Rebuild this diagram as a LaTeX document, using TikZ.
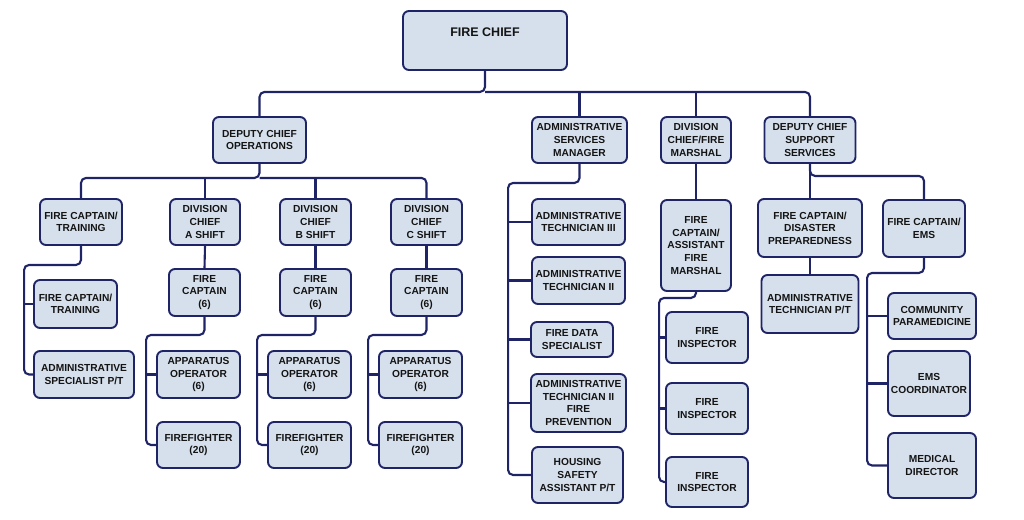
\documentclass[tikz,border=0pt]{standalone}
\usepackage{fontspec}
\setmainfont{Liberation Sans}
\definecolor{navy}{HTML}{1E2466}
\definecolor{paleblue}{HTML}{D6E0EC}
\tikzset{
    box/.style = {draw=navy, fill=paleblue, line width=1.9pt, rounded corners=6pt, align=center,
        inner sep=1pt, text=black!92, font=\bfseries\fontsize{10.2}{12.6}\selectfont},
    wh/.style 2 args = {minimum width=#1, minimum height=#2},
    link/.style = {draw=navy, line width=2.1pt, rounded corners=5pt}
}
\begin{document}
\begin{tikzpicture}[x = 1pt, y = -1pt]
    \useasboundingbox (0,0) rectangle (1024,519);
    % top level
    \node[box, wh={164}{59}, font=\bfseries\fontsize{12.5}{15}\selectfont] (chief) at (485,40.5) {FIRE CHIEF\\[1pt]\mbox{}};
    \node[box, wh={93}{46}] (dco) at (259.5,140) {DEPUTY CHIEF\\OPERATIONS};
    \node[box, wh={95}{46}] (asm) at (579.5,140) {ADMINISTRATIVE\\SERVICES\\MANAGER};
    \node[box, wh={70}{46}] (dcfm) at (696,140) {DIVISION\\CHIEF/FIRE\\MARSHAL};
    \node[box, wh={91}{46}] (dss) at (810,140) {DEPUTY CHIEF\\SUPPORT\\SERVICES};
    % operations
    \node[box, wh={82}{46}] (fct) at (81,222) {FIRE CAPTAIN/\\TRAINING};
    \node[box, wh={70}{46}] (dca) at (205,222) {DIVISION\\CHIEF\\A SHIFT};
    \node[box, wh={71}{46}] (dcb) at (315.5,222) {DIVISION\\CHIEF\\B SHIFT};
    \node[box, wh={71}{46}] (dcc) at (426.5,222) {DIVISION\\CHIEF\\C SHIFT};
    \node[box, wh={83}{48}] (fcts) at (75.5,304) {FIRE CAPTAIN/\\TRAINING};
    \node[box, wh={100}{47}] (asp) at (84,374.5) {ADMINISTRATIVE\\SPECIALIST P/T};
    \node[box, wh={71}{47}] (fca) at (204.5,292.5) {FIRE\\CAPTAIN\\(6)};
    \node[box, wh={83}{47}] (aoa) at (198.5,374.5) {APPARATUS\\OPERATOR\\(6)};
    \node[box, wh={83}{46}] (ffa) at (198.5,445) {FIREFIGHTER\\(20)};
    \node[box, wh={71}{47}] (fcb) at (315.5,292.5) {FIRE\\CAPTAIN\\(6)};
    \node[box, wh={83}{47}] (aob) at (309.5,374.5) {APPARATUS\\OPERATOR\\(6)};
    \node[box, wh={83}{46}] (ffb) at (309.5,445) {FIREFIGHTER\\(20)};
    \node[box, wh={71}{47}] (fcc) at (426.5,292.5) {FIRE\\CAPTAIN\\(6)};
    \node[box, wh={83}{47}] (aoc) at (420.5,374.5) {APPARATUS\\OPERATOR\\(6)};
    \node[box, wh={83}{46}] (ffc) at (420.5,445) {FIREFIGHTER\\(20)};
    % administrative services
    \node[box, wh={93}{46}] (at3) at (578.5,222) {ADMINISTRATIVE\\TECHNICIAN III};
    \node[box, wh={93}{47}] (at2) at (578.5,280.5) {ADMINISTRATIVE\\TECHNICIAN II};
    \node[box, wh={82}{35}] (fds) at (572,339.5) {FIRE DATA\\SPECIALIST};
    \node[box, wh={95}{58}] (atf) at (578.5,403) {ADMINISTRATIVE\\TECHNICIAN II\\FIRE\\PREVENTION};
    \node[box, wh={91}{56}] (hsa) at (577.5,475) {HOUSING\\SAFETY\\ASSISTANT P/T};
    % fire marshal
    \node[box, wh={70}{91}] (fcm) at (696,245.5) {FIRE\\CAPTAIN/\\ASSISTANT\\FIRE\\MARSHAL};
    \node[box, wh={82}{51}] (fi1) at (707,337.5) {FIRE\\INSPECTOR};
    \node[box, wh={82}{51}] (fi2) at (707,408.5) {FIRE\\INSPECTOR};
    \node[box, wh={82}{50}] (fi3) at (707,482) {FIRE\\INSPECTOR};
    % support services
    \node[box, wh={104}{58}] (fdp) at (810,228) {FIRE CAPTAIN/\\DISASTER\\PREPAREDNESS};
    \node[box, wh={82}{57}] (ems) at (924,228.5) {FIRE CAPTAIN/\\EMS};
    \node[box, wh={97}{58}] (atp) at (810,304) {ADMINISTRATIVE\\TECHNICIAN P/T};
    \node[box, wh={88}{46}] (cp) at (932,316) {COMMUNITY\\PARAMEDICINE};
    \node[box, wh={82}{65}] (ec) at (929,383.5) {EMS\\COORDINATOR};
    \node[box, wh={88}{65}] (md) at (932,465.5) {MEDICAL\\DIRECTOR};
    % connectors
    \path (chief.south) ++(0,21) coordinate (cb);
    \draw[link] (chief.south) -- (cb) -| (dco.north);
    \draw[link] (cb) -| (dss.north);
    \draw[link] (cb -| asm.north) -- (asm.north);
    \draw[link] (cb -| dcfm.north) -- (dcfm.north);
    \path (dco.south) ++(0,14) coordinate (ob);
    \draw[link] (dco.south) -- (ob) -| (fct.north);
    \draw[link] (ob) -| (dcc.north);
    \draw[link] (ob -| dca.north) -- (dca.north);
    \draw[link] (ob -| dcb.north) -- (dcb.north);
    \draw[link] (fct.south) -- ++(0,19) -| ([xshift=-9pt]asp.west) -- (asp.west);
    \draw[link] (fcts.west) -- ++(-9,0);
    \draw[link] (dca.south) -- (fca.north);
    \draw[link] (dcb.south) -- (fcb.north);
    \draw[link] (dcc.south) -- (fcc.north);
    \draw[link] (fca.south) -- ++(0,18) -| ([xshift=-10pt]ffa.west) -- (ffa.west);
    \draw[link] (aoa.west) -- ++(-10,0);
    \draw[link] (fcb.south) -- ++(0,18) -| ([xshift=-10pt]ffb.west) -- (ffb.west);
    \draw[link] (aob.west) -- ++(-10,0);
    \draw[link] (fcc.south) -- ++(0,18) -| ([xshift=-10pt]ffc.west) -- (ffc.west);
    \draw[link] (aoc.west) -- ++(-10,0);
    \draw[link] (asm.south) -- ++(0,19) -| ([xshift=-23pt]hsa.west) -- (hsa.west);
    \draw[link] (at3.west) -- ++(-23,0);
    \draw[link] (at2.west) -- ++(-23,0);
    \draw[link] (fds.west) -- ++(-22,0);
    \draw[link] (atf.west) -- ++(-22,0);
    \draw[link] (dcfm.south) -- (fcm.north);
    \draw[link] (fcm.south) -- ++(0,6) -| ([xshift=-6pt]fi3.west) -- (fi3.west);
    \draw[link] (fi1.west) -- ++(-6,0);
    \draw[link] (fi2.west) -- ++(-6,0);
    \draw[link] (dss.south) -- ++(0,12) -| (ems.north);
    \draw[link] (dss.south) -- (fdp.north);
    \draw[link] (fdp.south) -- (atp.north);
    \draw[link] (ems.south) -- ++(0,15) -| ([xshift=-20pt]md.west) -- (md.west);
    \draw[link] (cp.west) -- ++(-20,0);
    \draw[link] (ec.west) -- ++(-20,0);
\end{tikzpicture}
\end{document}
